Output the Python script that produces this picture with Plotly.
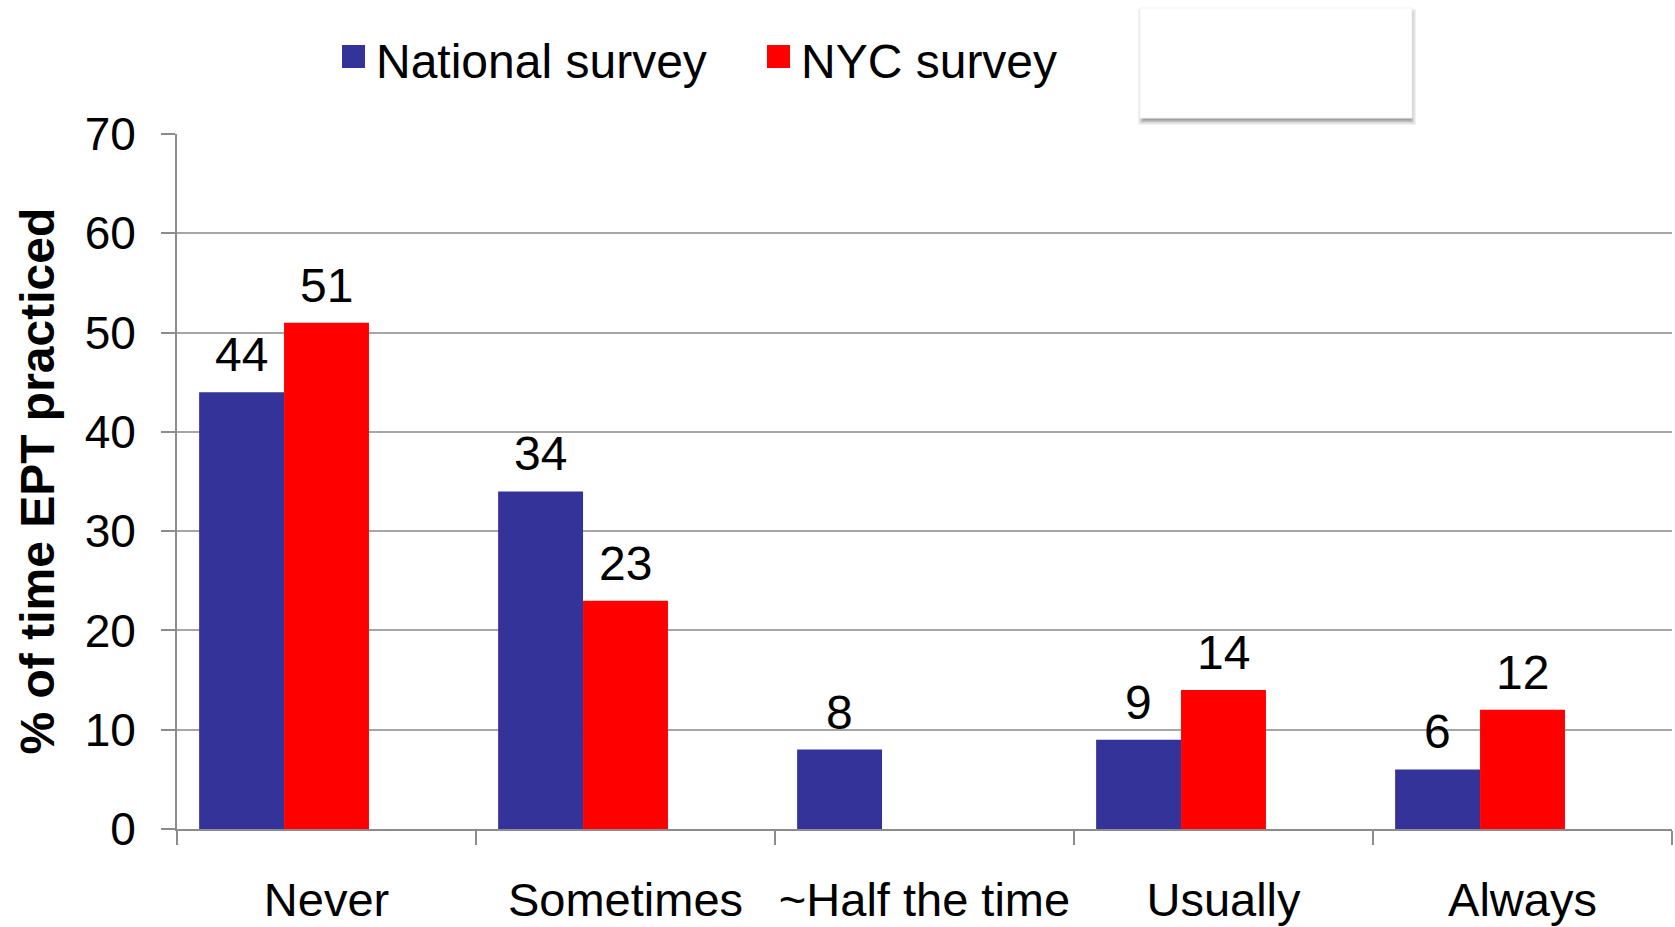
import plotly.graph_objects as go

categories = ["Never", "Sometimes", "~Half the time", "Usually", "Always"]
national = [44, 34, 8, 9, 6]
nyc = [51, 23, None, 14, 12]
series_names = ["National survey", "NYC survey"]
y_ticks = [0, 10, 20, 30, 40, 50, 60, 70]

BLUE = "#333399"
RED = "#FF0000"
FONT = "Liberation Sans, Arial, sans-serif"

W, H = 1675, 927
L, R, T, B = 177, 3, 134, 98
PW, PH = W - L - R, H - T - B
BAR_W = 0.284
OFFSETS = [-0.426, -0.142]


def px(x):
    return (x - L) / PW


def py(y):
    return (H - B - y) / PH


fig = go.Figure()
annotations = []
for vals, name, col, off in [(national, series_names[0], BLUE, OFFSETS[0]),
                             (nyc, series_names[1], RED, OFFSETS[1])]:
    fig.add_trace(go.Bar(
        x=categories, y=vals, name=name,
        marker=dict(color=col, line=dict(width=0)),
        width=BAR_W, offset=off,
        showlegend=False, hovertemplate="%{x}: %{y}<extra>" + name + "</extra>",
    ))
    shift = (off + BAR_W / 2) * PW / len(categories)
    for c, v in zip(categories, vals):
        if v is None:
            continue
        annotations.append(dict(text=str(v), x=c, y=v, xref="x", yref="y",
                                xanchor="center", yanchor="bottom",
                                xshift=shift, yshift=9, showarrow=False,
                                font=dict(family=FONT, size=48, color="black")))

shapes = []

# custom legend
leg = [(342, BLUE, series_names[0], 376), (767, RED, series_names[1], 801)]
for sx, col, name, tx in leg:
    shapes.append(dict(type="rect", xref="paper", yref="paper",
                       x0=px(sx), x1=px(sx + 23), y0=py(68), y1=py(45),
                       fillcolor=col, line=dict(width=0)))
    annotations.append(dict(text=name, xref="paper", yref="paper",
                            x=px(tx - 2), y=py(62), xanchor="left", yanchor="middle",
                            showarrow=False,
                            font=dict(family=FONT, size=48, color="black")))

# white box with drop shadow
for i, op in enumerate([0.06, 0.09, 0.12, 0.16]):
    d = 6 - i * 1.5
    shapes.append(dict(type="rect", xref="paper", yref="paper",
                       x0=px(1140 - d + 4), x1=px(1412 + d - 2), y0=py(118 + d + 1), y1=py(9 - d + 6),
                       fillcolor="rgba(0,0,0,%.2f)" % op, line=dict(width=0), layer="above"))
shapes.append(dict(type="rect", xref="paper", yref="paper",
                   x0=px(1140), x1=px(1412), y0=py(118), y1=py(8),
                   fillcolor="white", line=dict(width=1, color="#f4f4f4"), layer="above"))

# y-axis title
annotations.append(dict(text="<b>% of time EPT practiced</b>", xref="paper", yref="paper",
                        x=px(37), y=0.5, xanchor="center", yanchor="middle",
                        textangle=-90, showarrow=False,
                        font=dict(family=FONT, size=48, color="black")))

fig.update_layout(
    width=W, height=H,
    margin=dict(l=L, r=R, t=T, b=B, pad=0, autoexpand=False),
    paper_bgcolor="white", plot_bgcolor="white",
    barmode="overlay",
    font=dict(family=FONT, color="black"),
    shapes=shapes, annotations=annotations,
    showlegend=False,
    xaxis=dict(
        type="category", categoryorder="array", categoryarray=categories,
        range=[-0.5, len(categories) - 0.5],
        showline=True, linecolor="#8c8c8c", linewidth=2,
        ticks="outside", tickson="boundaries", ticklen=14, tickwidth=2, tickcolor="#8c8c8c",
        tickfont=dict(family=FONT, size=47, color="black"),
        tickangle=0, automargin=False,
        ticklabelstandoff=29,
        showgrid=False, zeroline=False,
    ),
    yaxis=dict(
        range=[0, 70], tickvals=y_ticks,
        showline=True, linecolor="#8c8c8c", linewidth=2,
        ticks="outside", ticklen=14, tickwidth=2, tickcolor="#8c8c8c",
        tickfont=dict(family=FONT, size=46, color="black"),
        automargin=False,
        ticklabelstandoff=16,
        showgrid=True, gridcolor="#a6a6a6", gridwidth=2,
        zeroline=False,
    ),
)

fig.write_html("out.html")
